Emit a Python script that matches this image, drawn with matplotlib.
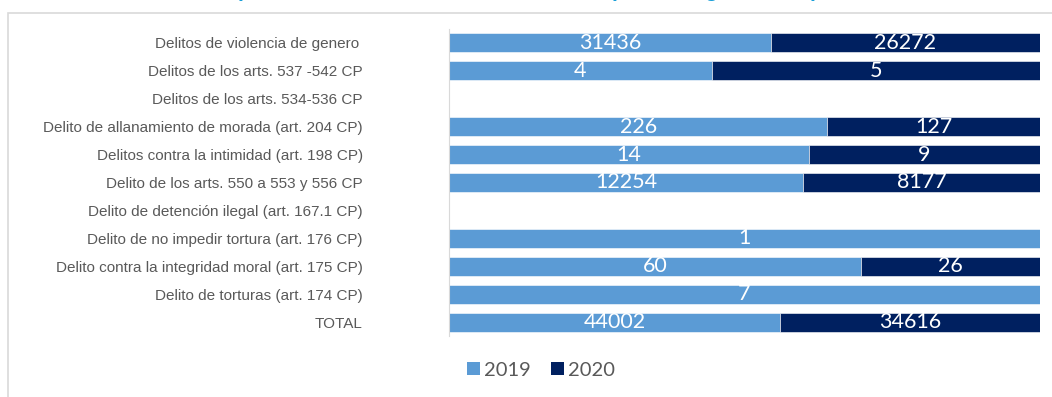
import matplotlib
matplotlib.use("Agg")
import matplotlib.pyplot as plt
from matplotlib.patches import Rectangle, Patch

categories = [
    "Delitos de violencia de genero ",
    "Delitos de los arts. 537 -542 CP",
    "Delitos de los arts. 534-536 CP",
    "Delito de allanamiento de morada (art. 204 CP)",
    "Delitos contra la intimidad (art. 198 CP)",
    "Delito de los arts. 550 a 553 y 556 CP",
    "Delito de detención ilegal (art. 167.1 CP)",
    "Delito de no impedir tortura (art. 176 CP)",
    "Delito contra la integridad moral (art. 175 CP)",
    "Delito de torturas (art. 174 CP)",
    "TOTAL",
]
values_2019 = [31436, 4, 0, 226, 14, 12254, 0, 1, 60, 7, 44002]
values_2020 = [26272, 5, 0, 127, 9, 8177, 0, 0, 26, 0, 34616]
series_names = ["2019", "2020"]
title = "Número de personas condenadas en 2019 - 2020 por los siguientes tipos de delitos"

color_2019 = "#5B9BD5"
color_2020 = "#002060"
text_grey = "#595959"

W, H = 1052, 397
fig = plt.figure(figsize=(W / 100, H / 100), dpi=100)

# outer chart frame (continues past the right and bottom edges)
fig.patches.append(Rectangle((8 / W, -0.1), 1.2, (H - 13) / H + 0.1,
                             transform=fig.transFigure, fill=False,
                             edgecolor="#d9d9d9", linewidth=1.2))

# title sits mostly above the top edge of the canvas
fig.text(537 / W, 1 + 2.5 / H, title, ha="center", va="baseline",
         fontsize=15, fontweight="bold", color="#1a9fd8",
         family="Liberation Sans")

ax = fig.add_axes([449 / W, 1 - 336 / H, 591 / W, 307 / H])

n = len(categories)
ypos = list(range(n))
bar_h = 0.68
for i in range(n):
    total = values_2019[i] + values_2020[i]
    if total == 0:
        continue
    f19 = values_2019[i] / total
    f20 = values_2020[i] / total
    if values_2019[i] > 0:
        ax.barh(i, f19, left=0, height=bar_h, color=color_2019,
                edgecolor="white", linewidth=0.4)
        ax.text(f19 / 2, i, str(values_2019[i]), ha="center", va="center",
                color="white", fontsize=15.5, family="Lato")
    if values_2020[i] > 0:
        ax.barh(i, f20, left=f19, height=bar_h, color=color_2020,
                edgecolor="white", linewidth=0.4)
        ax.text(f19 + f20 / 2, i, str(values_2020[i]), ha="center",
                va="center", color="white", fontsize=15.5, family="Lato")

ax.set_xlim(0, 1)
ax.set_ylim(n - 0.5, -0.5)
ax.set_yticks(ypos)
ax.set_yticklabels(categories, fontsize=11, color=text_grey,
                   family="Liberation Sans")
ax.tick_params(axis="y", length=0, pad=62)
ax.set_xticks([])
for side in ("top", "right", "bottom"):
    ax.spines[side].set_visible(False)
ax.spines["left"].set_color("#d9d9d9")
ax.spines["left"].set_linewidth(0.8)

handles = [Patch(facecolor=color_2019), Patch(facecolor=color_2020)]
fig.legend(handles, series_names, loc="center", bbox_to_anchor=(541 / W, 1 - 370 / H),
           ncol=2, frameon=False, handlelength=0.65, handleheight=0.65,
           handletextpad=0.2, columnspacing=1.0,
           prop={"family": "Lato", "size": 14.5}, labelcolor=text_grey)

fig.savefig("out.png", dpi=100)
